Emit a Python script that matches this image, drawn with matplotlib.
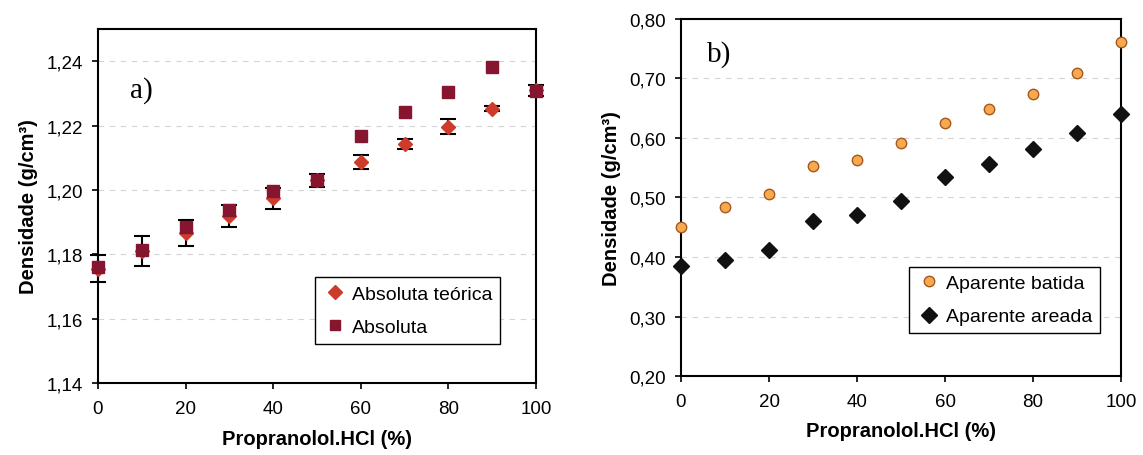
import numpy as np
import matplotlib
matplotlib.use("Agg")
import matplotlib.pyplot as plt
from matplotlib.lines import Line2D
from matplotlib.ticker import FuncFormatter, MultipleLocator

plt.rcParams['font.family'] = ['Liberation Sans', 'DejaVu Sans']

# Propranolol.HCl content (%)
conc = [0, 10, 20, 30, 40, 50, 60, 70, 80, 90, 100]

# a) densidade absoluta
abs_teorica = [1.1755, 1.1810, 1.1866, 1.1918, 1.1974, 1.2030, 1.2086, 1.2143, 1.2197, 1.2252, 1.2310]
abs_teorica_err = [0.0042, 0.0046, 0.0041, 0.0034, 0.0032, 0.0020, 0.0022, 0.0015, 0.0022, 0.0008, 0.0017]
absoluta = [1.1759, 1.1813, 1.1885, 1.1937, 1.1996, 1.2032, 1.2168, 1.2241, 1.2305, 1.2383, 1.2308]

# b) densidade aparente
aparente_batida = [0.450, 0.484, 0.506, 0.553, 0.563, 0.592, 0.626, 0.648, 0.674, 0.710, 0.761]
aparente_areada = [0.385, 0.395, 0.411, 0.461, 0.471, 0.494, 0.535, 0.557, 0.581, 0.609, 0.641]

RED = '#cc3b2c'
MAROON = '#861530'


def comma(v, pos):
    return ("%.2f" % v).replace('.', ',')


def style_axes(ax, ymin, ymax, step, xpad):
    ax.set_xlim(0, 100)
    ax.set_ylim(ymin, ymax)
    ax.yaxis.set_major_locator(MultipleLocator(step))
    ax.yaxis.set_major_formatter(FuncFormatter(comma))
    ax.xaxis.set_major_locator(MultipleLocator(20))
    ax.tick_params(direction='out', length=4, width=1.2, labelsize=13.5, pad=7)
    ax.tick_params(axis='x', pad=8)
    for s in ax.spines.values():
        s.set_linewidth(1.5)
    ax.grid(axis='y', color='#d4d4d4', linestyle=(0, (5, 5)), linewidth=0.8)
    ax.set_axisbelow(True)
    ax.set_xlabel("Propranolol.HCl (%)", fontsize=14.5, fontweight='bold', labelpad=xpad)
    ax.set_ylabel("Densidade (g/cm³)", fontsize=14.5, fontweight='bold', labelpad=6)


def add_legend(ax, handles, anchor):
    leg = ax.legend(handles=handles, loc='upper left', bbox_to_anchor=anchor, borderaxespad=0,
                    fontsize=14, frameon=True, fancybox=False, edgecolor='black', framealpha=1,
                    borderpad=0.4, labelspacing=0.8, handletextpad=0.2, handlelength=1.3)
    leg.get_frame().set_linewidth(1.0)


def main():
    fig = plt.figure(figsize=(11.43, 4.56), dpi=100)
    ax1 = fig.add_axes([0.0857, 0.158, 0.3832, 0.776])
    ax2 = fig.add_axes([0.5958, 0.1732, 0.385, 0.783])

    # panel a
    ax1.errorbar(conc, abs_teorica, yerr=abs_teorica_err, fmt='D', color=RED,
                 markersize=7.5, ecolor='black', elinewidth=1.5, capsize=5.6, capthick=1.5,
                 clip_on=False, zorder=3)
    ax1.plot(conc, absoluta, 's', color=MAROON, markersize=8, clip_on=False, zorder=4)
    style_axes(ax1, 1.14, 1.25, 0.02, 9)
    ax1.text(0.073, 0.83, "a)", transform=ax1.transAxes, fontsize=21,
             family='Liberation Serif', va='center')
    add_legend(ax1, [Line2D([], [], linestyle='none', marker='D', color=RED, markersize=7,
                            label='Absoluta teórica'),
                     Line2D([], [], linestyle='none', marker='s', color=MAROON, markersize=7,
                            label='Absoluta')],
               (0.495, 0.2986))

    # panel b
    ax2.plot(conc, aparente_batida, 'o', markerfacecolor='#f8a94f', markeredgecolor='#a4581c',
             markeredgewidth=1.0, markersize=7.5, label='Aparente batida', clip_on=False, zorder=3)
    ax2.plot(conc, aparente_areada, 'D', color='#111111', markersize=8,
             label='Aparente areada', clip_on=False, zorder=3)
    style_axes(ax2, 0.2, 0.8, 0.1, 8)
    ax2.text(0.058, 0.902, "b)", transform=ax2.transAxes, fontsize=21,
             family='Liberation Serif', va='center')
    handles, labels = ax2.get_legend_handles_labels()
    add_legend(ax2, handles, (0.518, 0.306))

    fig.savefig("out.png", dpi=100)


if __name__ == '__main__':
    main()
